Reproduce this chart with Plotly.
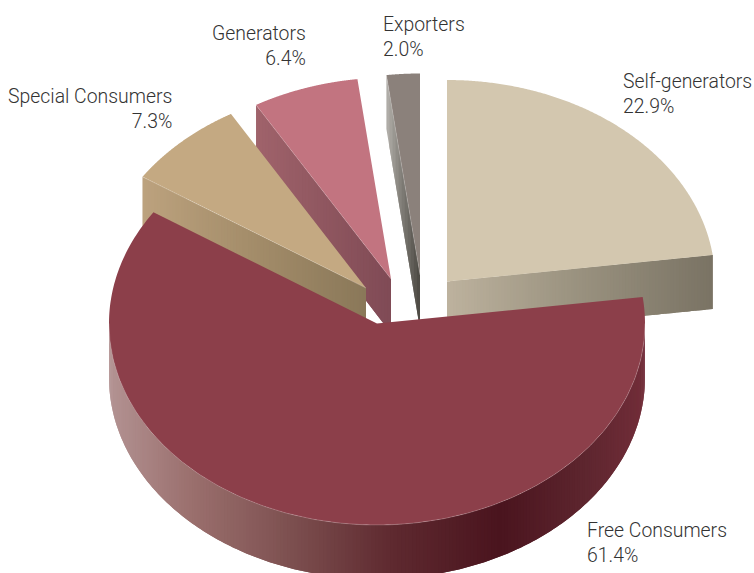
import numpy as np
import plotly.graph_objects as go

# Shares of the market, clockwise from twelve o'clock
categories = ["Self-generators", "Free Consumers", "Special Consumers", "Generators", "Exporters"]
shares = [22.9, 61.4, 7.3, 6.4, 2.0]

# Apex of each exploded slice, in page pixels
apex_x = [447, 377, 366, 391, 420]
apex_y = [281.5, 323.5, 288, 279, 275]
top_colors = ["#D3C7AF", "#8C3F4A", "#C4A982", "#C27480", "#8B817B"]

# Horizontal shading stops of the side walls: (page x, colour)
wall_stops = {
    "Self-generators": [(447, "#BDB29E"), (560, "#9E9683"), (712, "#7A7364")],
    "Free Consumers": [(109, "#B39393"), (190, "#9B706E"), (290, "#7D5050"), (390, "#5F2A30"),
                       (500, "#4A141E"), (587, "#5E262F"), (645, "#722D39")],
    "Special Consumers": [(142, "#BCA27E"), (250, "#A48D6A"), (366, "#8A7859")],
    "Generators": [(255, "#A0636B"), (393, "#7F4A55")],
    "Exporters": [(384, "#BDBAB5"), (400, "#85827C"), (420, "#4A4842")],
}

# Label anchors: page x, page y of the block centre, horizontal side
label_x = [623, 587, 172, 306, 383]
label_y = [94, 543, 109, 46, 37]
label_side = ["left", "left", "right", "right", "left"]

RX, RY, DEPTH = 268, 201.5, 54
TEXT_FONT = "Roboto, sans-serif"


def hex_rgb(c):
    return np.array([int(c[i:i + 2], 16) for i in (1, 3, 5)], float)


def shade(name, x):
    xs = [s[0] for s in wall_stops[name]]
    rgb = np.array([hex_rgb(s[1]) for s in wall_stops[name]])
    vals = [np.interp(x, xs, rgb[:, k]) for k in range(3)]
    return "rgb(%d,%d,%d)" % tuple(round(v) for v in vals)


def rim(cx, cy, t):
    return cx + RX * np.sin(t), cy - RY * np.cos(t)


def polygon(fig, xs, ys, color):
    fig.add_trace(go.Scatter(
        x=list(xs), y=list(ys), mode="none", fill="toself", fillcolor=color,
        hoverinfo="skip", showlegend=False,
    ))


def edge(fig, xs, ys):
    fig.add_trace(go.Scatter(
        x=list(xs), y=list(ys), mode="lines",
        line=dict(color="rgba(255,255,255,0.35)", width=0.6),
        hoverinfo="skip", showlegend=False,
    ))


def strips(fig, name, fx, fy):
    """Wall below a top outline, shaded by x; each strip runs under the next to hide seams."""
    for i in range(len(fx) - 1):
        j = min(i + 2, len(fx) - 1)
        sx = fx[i:j + 1]
        sy = fy[i:j + 1]
        polygon(fig, np.r_[sx, sx[::-1], sx[0]], np.r_[sy, sy[::-1] + DEPTH, sy[0]],
                shade(name, (fx[i] + fx[i + 1]) / 2))


def cut_wall(fig, name, x0, y0, x1, y1):
    """Straight cut face between two top points."""
    n = max(int(abs(x1 - x0) / 3), 4)
    strips(fig, name, np.linspace(x0, x1, n + 1), np.linspace(y0, y1, n + 1))


def rim_wall(fig, name, cx, cy):
    """Curved front wall of a slice, drawn from its left extreme to its right extreme."""
    ts = np.radians(np.arange(270, 89.9, -0.8))
    strips(fig, name, *rim(cx, cy, ts))


def top_face(fig, color, cx, cy, t0, t1):
    ts = np.linspace(t0, t1, 240)
    xs, ys = rim(cx, cy, ts)
    polygon(fig, np.r_[cx, xs, cx], np.r_[cy, ys, cy], color)


bounds = np.radians(np.r_[0, np.cumsum(shares)] / sum(shares) * 360)
fig = go.Figure()

# Painted back to front so nearer slices cover the walls behind them
for i in [4, 3, 2, 0, 1]:
    name = categories[i]
    cx, cy = apex_x[i], apex_y[i]
    t0, t1 = bounds[i], bounds[i + 1]
    if name == "Free Consumers":
        rim_wall(fig, name, cx, cy)
        top_face(fig, top_colors[i], cx, cy, t0, t1)
        ts = np.linspace(np.pi / 2, 3 * np.pi / 2, 200)
        edge(fig, *rim(cx, cy, ts))
    elif name == "Self-generators":
        ex, ey = rim(cx, cy, t1)
        cut_wall(fig, name, cx, cy, ex, ey)
        top_face(fig, top_colors[i], cx, cy, t0, t1)
    else:
        ex, ey = rim(cx, cy, t0)
        cut_wall(fig, name, ex, ey, cx, cy)
        top_face(fig, top_colors[i], cx, cy, t0, t1)
        edge(fig, [ex, cx], [ey, cy])

for i, name in enumerate(categories):
    fig.add_annotation(
        x=label_x[i], y=label_y[i], xref="x", yref="y",
        text=f"{name}<br>{shares[i]:.1f}%", showarrow=False,
        xanchor=label_side[i], yanchor="middle", align=label_side[i],
        borderpad=0, borderwidth=0,
        font=dict(family=TEXT_FONT, size=19.4, color="#333333", weight=300),
    )

fig.update_layout(
    width=754, height=573, margin=dict(l=0, r=0, t=0, b=0),
    paper_bgcolor="white", plot_bgcolor="white", showlegend=False,
    xaxis=dict(range=[0, 754], visible=False, fixedrange=True),
    yaxis=dict(range=[573, 0], visible=False, fixedrange=True),
)
fig.write_html("out.html", config={"displayModeBar": False}, default_width="754px", default_height="573px")
